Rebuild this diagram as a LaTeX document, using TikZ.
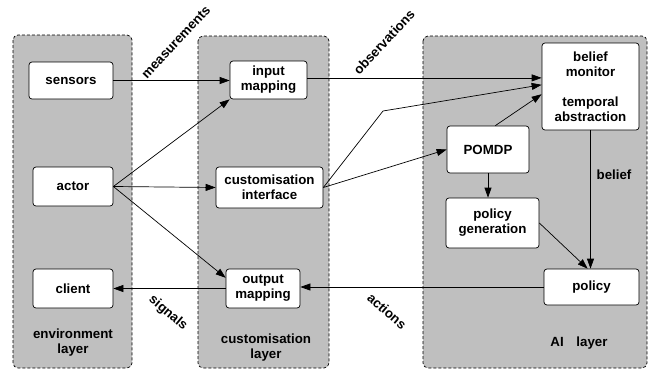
\documentclass[tikz,border=0pt]{standalone}
\usepackage{fontspec}
\setmainfont{Liberation Sans}
\usetikzlibrary{arrows.meta}
\begin{document}
\begin{tikzpicture}[x=1pt,y=-1pt,
  font=\fontsize{13.3}{15}\selectfont\bfseries,
  panel/.style={draw, dash pattern=on 3pt off 2pt, fill=black!25, rounded corners=5pt, line width=0.7pt},
  box/.style={draw, fill=white, rounded corners=3pt, line width=0.7pt, align=center, inner sep=0pt},
  link/.style={line width=0.7pt, -{Triangle[length=10pt,width=7pt]}},
  lbl/.style={inner sep=0pt, align=center}]
\useasboundingbox (0,0) rectangle (662,370);

% layers
\draw[panel] (13,35) rectangle (132,368);
\draw[panel] (198,36) rectangle (329,368);
\draw[panel] (423,36) rectangle (647,368);

% environment layer
\node[box, minimum width=84pt, minimum height=37pt] (sensors) at (71,80.5) {sensors};
\node[box, minimum width=80pt, minimum height=39pt] (actor) at (73,186.5) {actor};
\node[box, minimum width=80pt, minimum height=39pt] (client) at (73,288.5) {client};
\node[lbl] (envl) at (73,343) {environment\\layer};

% customisation layer
\node[box, minimum width=77pt, minimum height=38pt] (inmap) at (268.5,80) {input\\mapping};
\node[box, minimum width=107pt, minimum height=41pt] (ci) at (269.5,187.5) {customisation\\interface};
\node[box, minimum width=74pt, minimum height=39pt] (omap) at (263,288.5) {output\\mapping};
\node[lbl] (cusl) at (266,348) {customisation\\layer};

% AI layer
\node[box, minimum width=97pt, minimum height=87pt] (bm) at (590.5,86.5) {belief\\monitor\\[15pt]temporal\\abstraction};
\node[box, minimum width=82pt, minimum height=47pt] (pomdp) at (488,149.5) {POMDP};
\node[box, minimum width=93pt, minimum height=50pt] (pgen) at (492.5,223) {policy\\generation};
\node[box, minimum width=95pt, minimum height=36pt] (policy) at (591.5,287) {policy};
\node[lbl] (ail) at (579,343) {AI\hspace{9pt} layer};

% connectors
\draw[link] (sensors.east) -- (sensors.east -| inmap.west);
\draw[link] (actor.east) -- (inmap.south west);
\draw[link] (actor.east) -- (ci.west);
\draw[link] (actor.east) -- (omap.164);
\draw[link] (omap.west) -- (client.east);
\draw[link] (policy.west) -- (omap.east |- policy.west);
\draw[link] (inmap.east |- bm.170) -- (bm.170);
\coordinate (bend) at (383,111);
\draw[link] (ci.east) -- (bend) -- (bm.178);
\draw[link] (ci.east) -- (pomdp.west);
\draw[link] (pomdp.73) -- (bm.189);
\draw[link] (pomdp.south) -- (pomdp.south |- pgen.north);
\draw[link] (bm.south) -- (bm.south |- policy.north);
\draw[link] (pgen.east) -- (policy.102);

% connector labels
\node[lbl, rotate=47] (lmeas) at (176,42) {measurements};
\node[lbl, rotate=47] (lobs) at (384,42) {observations};
\node[lbl, rotate=-40] (lsig) at (168,313) {signals};
\node[lbl, rotate=-41] (lact) at (387,311) {actions};
\node[lbl] (lbel) at (614,175) {belief};
\end{tikzpicture}
\end{document}
